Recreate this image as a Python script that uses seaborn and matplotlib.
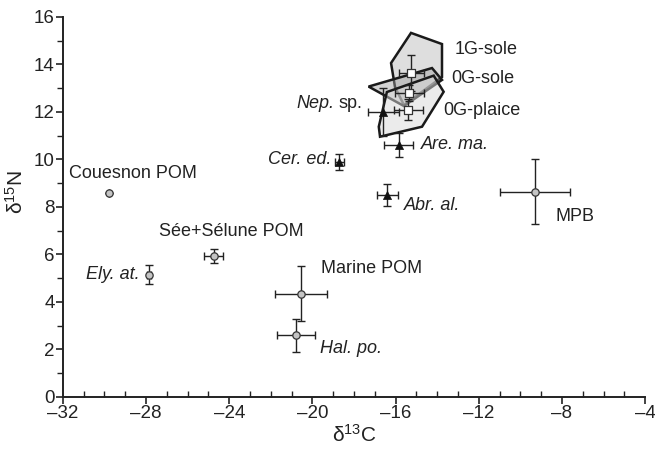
import matplotlib
matplotlib.use("Agg")
import matplotlib.pyplot as plt
import seaborn as sns
import pandas as pd
from matplotlib.patches import Polygon
from matplotlib.ticker import MultipleLocator

# --- data ---
# sources (grey circles)
src_names = ["Couesnon POM", "Sée+Sélune POM", "Ely. at.", "Marine POM", "Hal. po.", "MPB"]
src_c = [-29.8, -24.75, -27.85, -20.55, -20.8, -9.3]
src_n = [8.6, 5.95, 5.15, 4.35, 2.6, 8.65]
src_cerr = [0.0, 0.45, 0.1, 1.25, 0.9, 1.7]
src_nerr = [0.0, 0.3, 0.4, 1.15, 0.7, 1.35]

# invertebrates (black triangles)
inv_names = ["Cer. ed.", "Abr. al.", "Are. ma.", "Nep. sp."]
inv_c = [-18.7, -16.4, -15.85, -16.6]
inv_n = [9.9, 8.5, 10.6, 12.0]
inv_cerr = [0.2, 0.5, 0.7, 0.75]
inv_nerr = [0.35, 0.45, 0.5, 1.0]

# fish (white squares)
fish_names = ["1G-sole", "0G-sole", "0G-plaice"]
fish_c = [-15.25, -15.35, -15.4]
fish_n = [13.65, 12.8, 12.1]
fish_cerr = [0.6, 0.7, 0.7]
fish_nerr = [0.75, 0.35, 0.45]

# convex hulls of individual fish
hull_1g_sole = [(-15.26, 15.33), (-13.77, 14.86), (-13.77, 13.47), (-15.6, 12.29),
                (-16.03, 13.05), (-16.22, 14.06)]
hull_0g_sole = [(-17.3, 13.07), (-14.25, 13.85), (-13.77, 13.35), (-15.6, 12.25)]
hull_0g_plaice = [(-16.42, 12.84), (-14.17, 13.53), (-13.69, 12.85), (-14.73, 11.38),
                  (-16.75, 10.96), (-16.81, 11.38)]

sns.set_theme(style="ticks")
plt.rcParams["font.family"] = ["Liberation Sans", "DejaVu Sans"]
plt.rcParams["mathtext.fontset"] = "custom"
plt.rcParams["mathtext.rm"] = "Liberation Sans"
plt.rcParams["mathtext.it"] = "Liberation Sans:italic"

fig = plt.figure(figsize=(6.55, 4.54), dpi=100)
ax = fig.add_axes([0.096, 0.1256, 0.889, 0.837])

# hulls (face transparent, edges solid)
ax.add_patch(Polygon(hull_1g_sole, closed=True, facecolor=(0.86, 0.86, 0.86, 0.9),
                     edgecolor="#1a1a1a", lw=1.8, zorder=1))
ax.add_patch(Polygon(hull_0g_sole, closed=True, facecolor=(0.62, 0.62, 0.62, 0.45),
                     edgecolor="#1a1a1a", lw=1.8, zorder=1.1))
ax.add_patch(Polygon(hull_0g_plaice, closed=True, facecolor=(0.85, 0.85, 0.85, 0.5),
                     edgecolor="#1a1a1a", lw=1.8, zorder=1.2))

ekw = dict(fmt="none", ecolor="#222222", elinewidth=1.0, capsize=3, capthick=1.0, zorder=2)
ax.errorbar(src_c, src_n, xerr=src_cerr, yerr=src_nerr, **ekw)
ax.errorbar(inv_c, inv_n, xerr=inv_cerr, yerr=inv_nerr, **ekw)
ax.errorbar(fish_c, fish_n, xerr=fish_cerr, yerr=fish_nerr, **ekw)

src = pd.DataFrame({"c": src_c, "n": src_n})
inv = pd.DataFrame({"c": inv_c, "n": inv_n})
fish = pd.DataFrame({"c": fish_c, "n": fish_n})
sns.scatterplot(data=src, x="c", y="n", ax=ax, marker="o", s=28, color="#c4c4c4",
                edgecolor="#333333", linewidth=0.9, zorder=3)
sns.scatterplot(data=inv, x="c", y="n", ax=ax, marker="^", s=34, color="#111111",
                edgecolor="#111111", linewidth=0.5, zorder=3)
sns.scatterplot(data=fish, x="c", y="n", ax=ax, marker="s", s=40, color="white",
                edgecolor="#333333", linewidth=0.9, zorder=3)

fs = 13
tc = "#222222"
ax.text(-31.7, 9.43, "Couesnon POM", fontsize=fs, color=tc, va="center")
ax.text(-27.4, 6.95, "Sée+Sélune POM", fontsize=fs, color=tc, va="center")
ax.text(-28.3, 5.14, "Ely. at.", fontsize=fs, color=tc, va="center", ha="right", style="italic")
ax.text(-19.6, 5.39, "Marine POM", fontsize=fs, color=tc, va="center")
ax.text(-19.65, 2.06, "Hal. po.", fontsize=fs, color=tc, va="center", style="italic")
ax.text(-8.33, 7.62, "MPB", fontsize=fs, color=tc, va="center")
ax.text(-19.1, 9.98, "Cer. ed.", fontsize=fs, color=tc, va="center", ha="right", style="italic")
ax.text(-15.6, 8.08, "Abr. al.", fontsize=fs, color=tc, va="center", style="italic")
ax.text(-14.8, 10.61, "Are. ma.", fontsize=fs, color=tc, va="center", style="italic")
# "Nep." italic, "sp." upright
ax.text(-17.6, 12.34, "sp.", fontsize=fs, color=tc, va="center", ha="right")
ax.annotate("Nep.", xy=(-17.6, 12.34), xytext=(-20, 0), textcoords="offset points",
            fontsize=fs, color=tc, va="center", ha="right", style="italic")
ax.text(-13.14, 14.61, "1G-sole", fontsize=fs, color=tc, va="center")
ax.text(-13.34, 13.39, "0G-sole", fontsize=fs, color=tc, va="center")
ax.text(-13.72, 12.08, "0G-plaice", fontsize=fs, color=tc, va="center")

ax.set_xlim(-32, -4)
ax.set_ylim(0, 16)
ax.xaxis.set_major_locator(MultipleLocator(4))
ax.xaxis.set_minor_locator(MultipleLocator(1))
ax.yaxis.set_major_locator(MultipleLocator(2))
ax.yaxis.set_minor_locator(MultipleLocator(1))
ax.set_xticklabels([f"{int(v)}".replace("-", "\u2013") for v in ax.get_xticks()])
ax.tick_params(axis="both", which="major", labelsize=13.5, length=5, width=1.2,
               color="#222222", labelcolor="#222222", pad=1)
ax.tick_params(axis="x", which="minor", direction="in", length=4, width=1.0, color="#222222")
ax.tick_params(axis="y", which="minor", direction="out", length=4, width=1.0, color="#222222")
for side in ["left", "bottom"]:
    ax.spines[side].set_linewidth(1.4)
    ax.spines[side].set_color("#222222")
sns.despine(ax=ax)

ax.set_xlabel("δ$^{13}$C", fontsize=15, color="#222222", labelpad=1)
ax.set_ylabel("δ$^{15}$N", fontsize=15, color="#222222", labelpad=2)
ax.yaxis.set_label_coords(-0.062, 0.54)

fig.savefig("out.png", dpi=100)
